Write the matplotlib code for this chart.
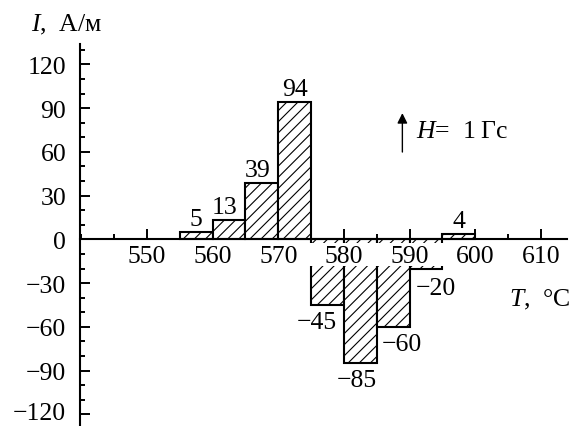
import numpy as np
import matplotlib.pyplot as plt
import matplotlib.transforms as mtransforms
from matplotlib.ticker import MultipleLocator, FixedLocator
from matplotlib.patches import Rectangle

plt.rcParams['font.family'] = ['Liberation Serif', 'DejaVu Serif']
plt.rcParams['mathtext.fontset'] = 'custom'
plt.rcParams['mathtext.rm'] = 'Liberation Serif'
plt.rcParams['mathtext.it'] = 'Liberation Serif:italic'
plt.rcParams['hatch.linewidth'] = 0.8

# Data: temperature bins (left edge), magnetization values
bin_left = [555, 560, 565, 570, 575, 580, 585, 590, 595]
values = [5, 13, 39, 94, -45, -85, -60, -20, 4]
labels = ['5', '13', '39', '94', '\u221245', '\u221285', '\u221260', '\u221220', '4']
bin_width = 5

x_ticks = [550, 560, 570, 580, 590, 600, 610]
y_ticks = [-120, -90, -60, -30, 0, 30, 60, 90, 120]
y_tick_labels = ['\u2212120', '\u221290', '\u221260', '\u221230', '0', '30', '60', '90', '120']

# label offsets in pixels (dx, dy)
label_offsets = [(0, 2), (-5, 2), (-4, 2), (0, 2), (-11, -6), (-4, -6), (9, -6), (10, -8), (0, 2)]

FS = 18.5

fig = plt.figure(figsize=(5.7, 4.27), dpi=100)
ax = fig.add_axes([0.1404, 0.0, 0.8546, 0.8946])

ax.bar(bin_left, values, width=bin_width, align='edge', color='white',
       edgecolor='black', linewidth=1.5, hatch='///', zorder=1)

# white band behind x tick labels (covers tops of the negative bars)
ax.add_patch(Rectangle((540, -18), 80, 15.5, facecolor='white', edgecolor='none', zorder=1.2))

for x, v, lab, (dx, dy) in zip(bin_left, values, labels, label_offsets):
    xc = x + bin_width / 2
    va = 'bottom' if v > 0 else 'top'
    ax.annotate(lab, (xc, v), xytext=(dx, dy), textcoords='offset pixels',
                ha='center', va=va, fontsize=FS, zorder=3)

ax.set_xlim(539.8, 614)
ax.set_ylim(-128, 134)

ax.spines['top'].set_visible(False)
ax.spines['right'].set_visible(False)
ax.spines['bottom'].set_position(('data', 0))
for s in ['left', 'bottom']:
    ax.spines[s].set_linewidth(1.5)
    ax.spines[s].set_zorder(2.5)

ax.xaxis.set_major_locator(FixedLocator(x_ticks))
ax.xaxis.set_minor_locator(MultipleLocator(5))
ax.set_xticklabels([str(t) for t in x_ticks])
ax.yaxis.set_major_locator(FixedLocator(y_ticks))
ax.yaxis.set_minor_locator(MultipleLocator(10))
ax.set_yticklabels(y_tick_labels)

ax.tick_params(axis='x', which='major', direction='in', length=7, width=1.4, pad=4, labelsize=FS)
ax.tick_params(axis='x', which='minor', direction='in', length=3.6, width=1.4)
ax.tick_params(axis='y', which='major', direction='in', length=7, width=1.4, pad=10, labelsize=FS)
ax.tick_params(axis='y', which='minor', direction='in', length=3.6, width=1.4)
ax.patch.set_alpha(0)

# nudge the lowest y label up a little so it stays inside the figure
bottom_label = ax.get_yticklabels()[0]
bottom_label.set_transform(bottom_label.get_transform() +
                           mtransforms.ScaledTranslation(0, 3 / 72, fig.dpi_scale_trans))

# axis titles
fig.text(0.054, 0.941, '$I$,  А/м', fontsize=FS, va='center', ha='left')
ax.text(605.2, -40.6, '$T$,  °C', fontsize=FS, va='center', ha='left')

# field arrow
ax.annotate('', xy=(588.9, 88.5), xytext=(588.9, 58.0),
            arrowprops=dict(arrowstyle='-|>', color='black', lw=1.0, mutation_scale=15))
ax.text(591.0, 74.5, '$H$=  1\u2009Гс', fontsize=FS, va='center', ha='left')

fig.savefig('out.png', dpi=100)
